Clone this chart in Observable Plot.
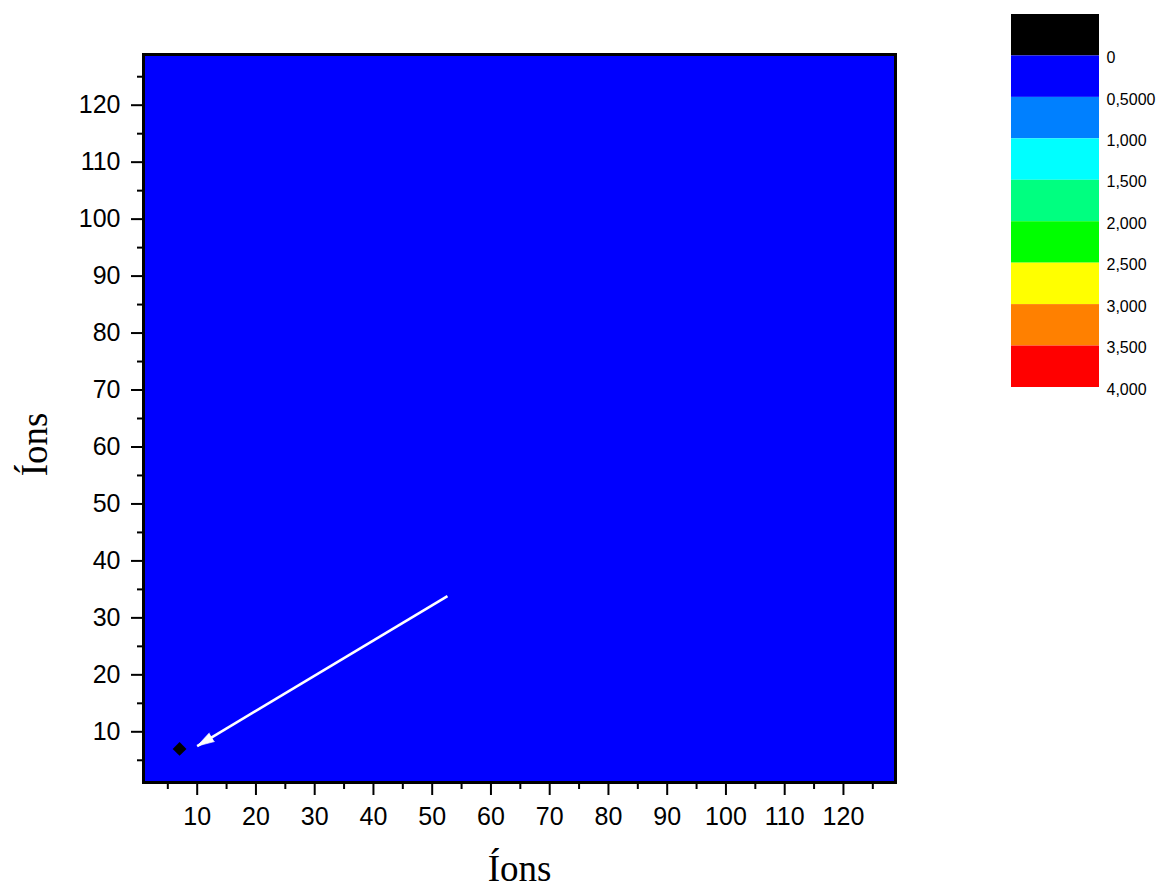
<!DOCTYPE html>
<html>
<head>
<meta charset="utf-8">
<script src="https://cdn.jsdelivr.net/npm/d3@7"></script>
<script src="https://cdn.jsdelivr.net/npm/@observablehq/plot@0.6"></script>
<style>
  body { margin: 0; background: #fff; }
  #wrap { position: relative; width: 1164px; height: 888px; }
  #main { position: absolute; left: 0; top: 0; }
  #legend { position: absolute; left: 1000px; top: 0; }
</style>
</head>
<body>
<div id="wrap"><div id="main"></div><div id="legend"></div></div>
<script>
// ---- data ----
const xDomain = [0.86, 128.86];
const yDomain = [1.1, 128.9];
const fieldX1 = [0.86];
const fieldX2 = [128.86];
const fieldY1 = [1.1];
const fieldY2 = [128.9];
const fieldValue = [0.25];
const pointX = [7];
const pointY = [7];
const arrowFrom = [52.6, 33.8];
const arrowTo = [10.0, 7.5];
const majorTicks = [10, 20, 30, 40, 50, 60, 70, 80, 90, 100, 110, 120];
const minorTicks = [5, 15, 25, 35, 45, 55, 65, 75, 85, 95, 105, 115, 125];
const levelThresholds = [0, 0.5, 1, 1.5, 2, 2.5, 3, 3.5];
const levelColors = ["#000000", "#0000FF", "#0080FF", "#00FFFF", "#00FF80", "#00FF00", "#FFFF00", "#FF8000", "#FF0000"];
const legendLow = [-0.5, 0, 0.5, 1, 1.5, 2, 2.5, 3, 3.5];
const legendHigh = [0, 0.5, 1, 1.5, 2, 2.5, 3, 3.5, 4];
const legendTicks = [0, 0.5, 1, 1.5, 2, 2.5, 3, 3.5, 4];
const legendLabels = ["0", "0,5000", "1,000", "1,500", "2,000", "2,500", "3,000", "3,500", "4,000"];
const axisLabel = "Íons";

const colorScale = {type: "threshold", domain: levelThresholds, range: levelColors};

const field = fieldValue.map((v, i) => ({x1: fieldX1[i], x2: fieldX2[i], y1: fieldY1[i], y2: fieldY2[i], v}));
const points = pointX.map((x, i) => ({x, y: pointY[i]}));
const arrows = [{x1: arrowFrom[0], y1: arrowFrom[1], x2: arrowTo[0], y2: arrowTo[1]}];

const serif = "'Liberation Serif', 'Times New Roman', serif";

function makeMain(headRotate) {
  return Plot.plot({
    width: 920,
    height: 888,
    marginLeft: 143,
    marginRight: 25,
    marginTop: 54,
    marginBottom: 106,
    style: {fontFamily: "'Liberation Sans', Arial, sans-serif", fontSize: "25px", color: "#000", background: "#fff"},
    x: {domain: xDomain},
    y: {domain: yDomain},
    color: colorScale,
    marks: [
      Plot.rect(field, {x1: "x1", x2: "x2", y1: "y1", y2: "y2", fill: "v"}),
      Plot.link(arrows, {x1: "x1", y1: "y1", x2: "x2", y2: "y2", stroke: "white", strokeWidth: 2.6}),
      Plot.vector(arrows, {x: "x2", y: "y2", shape: "spike", anchor: "end", length: 17, r: 5, rotate: headRotate,
        fill: "white", stroke: "white", strokeWidth: 0.6}),
      Plot.dot(points, {x: "x", y: "y", symbol: "diamond2", r: 6.2, fill: "black"}),
      Plot.axisX(majorTicks, {tickSize: 13, tickPadding: 12, strokeWidth: 2, label: null, fontSize: 25, tickFormat: d => String(d)}),
      Plot.axisX(minorTicks, {tickSize: 7, strokeWidth: 2, label: null, tickFormat: () => ""}),
      Plot.axisY(majorTicks, {tickSize: 12, tickPadding: 11, strokeWidth: 2, label: null, fontSize: 25, tickFormat: d => String(d)}),
      Plot.axisY(minorTicks, {tickSize: 6, strokeWidth: 2, label: null, tickFormat: () => ""}),
      Plot.frame({stroke: "black", strokeWidth: 3}),
      Plot.text([axisLabel], {frameAnchor: "bottom", lineAnchor: "middle", textAnchor: "middle", dy: 87, fontSize: 37, fontFamily: serif, fill: "black"}),
      Plot.text([axisLabel], {frameAnchor: "left", lineAnchor: "middle", textAnchor: "middle", dx: -108, dy: 26, rotate: -90, fontSize: 37, fontFamily: serif, fill: "black"})
    ]
  });
}

// first pass to get the on-screen direction of the arrow, used to orient its filled head
const probe = makeMain(0);
const sx = probe.scale("x"), sy = probe.scale("y");
const vx = sx.apply(arrowTo[0]) - sx.apply(arrowFrom[0]);
const vy = sy.apply(arrowTo[1]) - sy.apply(arrowFrom[1]);
const rot = Math.atan2(vx, -vy) * 180 / Math.PI;
const main = makeMain(rot);
document.getElementById("main").appendChild(main);

const legendData = legendLow.map((lo, i) => ({lo, hi: legendHigh[i]}));
const legend = Plot.plot({
  width: 164,
  height: 400,
  marginLeft: 11,
  marginRight: 65,
  marginTop: 14,
  marginBottom: 13,
  style: {fontFamily: "'Liberation Sans', Arial, sans-serif", fontSize: "16px", color: "#000", background: "#fff"},
  x: {axis: null, domain: [0, 1]},
  y: {domain: [legendLow[0], legendHigh[legendHigh.length - 1]], reverse: true, axis: null},
  color: colorScale,
  marks: [
    Plot.rect(legendData, {x1: 0, x2: 1, y1: "lo", y2: "hi", fill: "lo"}),
    Plot.axisY(legendTicks, {anchor: "right", tickSize: 0, tickPadding: 7, label: null, dy: 2, tickFormat: (d) => legendLabels[legendTicks.indexOf(d)]})
  ]
});
document.getElementById("legend").appendChild(legend);
</script>
</body>
</html>
